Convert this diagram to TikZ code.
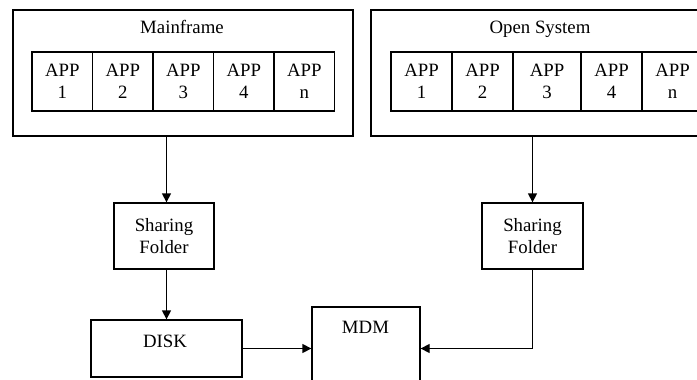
\documentclass[tikz,border=0pt]{standalone}
\usepackage{fontspec}
\setmainfont{Liberation Serif}
\usetikzlibrary{arrows.meta}

\begin{document}
\begin{tikzpicture}[x=1pt,y=-1pt,font=\fontsize{18.8}{22.5}\selectfont,line width=1.3pt,
  box/.style={draw,inner sep=0pt,align=center},
  app/.style={box,minimum width=60.5pt,minimum height=59pt},
  arr/.style={-{Triangle[length=9pt,width=9pt]}}]
\useasboundingbox (0,0) rectangle (697,380);
\clip (0,0) rectangle (697,380);
\node[box,minimum width=340pt,minimum height=126pt] (mainframe) at (183,73) {};
\node[anchor=base] (mainframetitle) at (182,34) {Mainframe};
\node[app] (mapp1) at (62.25,81.5) {APP\\1};
\node[app] (mapp2) at (122.75,81.5) {APP\\2};
\node[app] (mapp3) at (183.25,81.5) {APP\\3};
\node[app] (mapp4) at (243.75,81.5) {APP\\4};
\node[app] (mappn) at (304.25,81.5) {APP\\n};
\node[box,minimum width=351pt,minimum height=126pt] (opensystem) at (546.5,73) {};
\node[anchor=base] (opensystemtitle) at (540,34) {Open System};
\node[app,minimum width=61pt] (oapp1) at (421.5,81.5) {APP\\1};
\node[app,minimum width=61pt] (oapp2) at (482.5,81.5) {APP\\2};
\node[app,minimum width=68pt] (oapp3) at (547,81.5) {APP\\3};
\node[app,minimum width=61pt] (oapp4) at (611.5,81.5) {APP\\4};
\node[app,minimum width=61pt] (oappn) at (672.5,81.5) {APP\\n};
\node[box,minimum width=100pt,minimum height=66pt] (share1) at (164,236) {Sharing\\Folder};
\node[box,minimum width=101pt,minimum height=66pt] (share2) at (532.5,236) {Sharing\\Folder};
\node[box,minimum width=151pt,minimum height=57pt] (disk) at (166.5,348.5) {};
\node[anchor=base] (disktitle) at (165,347) {DISK};
\node[box,minimum width=108pt,minimum height=83pt] (mdm) at (366,348.5) {};
\node[anchor=base] (mdmtitle) at (365.5,333) {MDM};
\draw[arr] (mainframe.south -| disk.north) -- (share1.north -| disk.north);
\draw[arr] (share1.south -| disk.north) -- (disk.north);
\draw[arr] (opensystem.south -| share2.north) -- (share2.north);
\draw[arr] (disk.east) -- (mdm.west);
\draw[arr] (share2.south) |- (mdm.east);
\end{tikzpicture}
\end{document}
